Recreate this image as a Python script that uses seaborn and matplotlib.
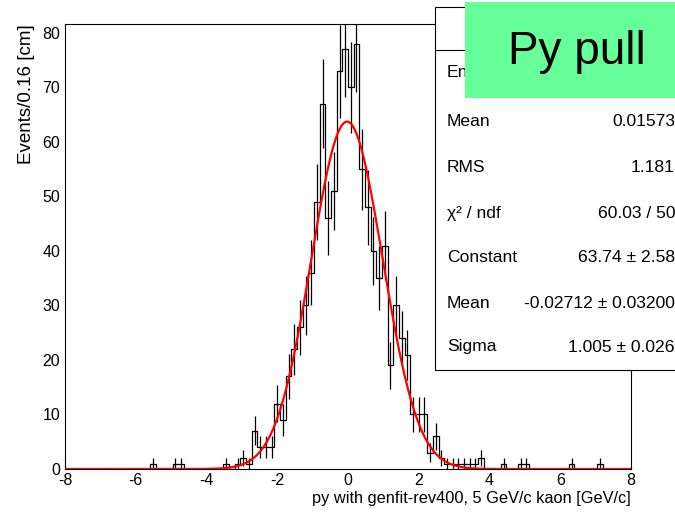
import numpy as np
import pandas as pd
import seaborn as sns
import matplotlib.pyplot as plt
from matplotlib.patches import Rectangle
from matplotlib.lines import Line2D
from matplotlib.ticker import MultipleLocator

# ---- data ----
# 100 bins of 0.16 from -8 to 8
x_lo, x_hi, n_bins = -8, 8, 100
counts = [
    0, 0, 0, 0, 0, 0, 0, 0, 0, 0,        # -8.0 .. -6.4
    0, 0, 0, 0, 0, 1, 0, 0, 0, 1,        # -6.4 .. -4.8
    1, 0, 0, 0, 0, 0, 0, 0, 1, 0,        # -4.8 .. -3.2
    1, 2, 1, 7, 4, 4, 4, 12, 9, 17,      # -3.2 .. -1.6
    22, 26, 30, 36, 49, 67, 46, 51, 73, 77,   # -1.6 .. 0.0
    70, 78, 55, 48, 40, 35, 41, 19, 30, 24,   # 0.0 .. 1.6
    21, 10, 10, 10, 3, 6, 2, 1, 1, 1,    # 1.6 .. 3.2
    1, 1, 1, 2, 0, 0, 0, 1, 0, 0,        # 3.2 .. 4.8
    1, 1, 0, 0, 0, 0, 0, 0, 0, 1,        # 4.8 .. 6.4
    0, 0, 0, 0, 1, 0, 0, 0, 0, 0,        # 6.4 .. 8.0
]

# gaussian fit parameters (from the stats box)
fit_constant = 63.74
fit_mean = -0.02712
fit_sigma = 1.005

stat_labels = ["Entries", "Mean", "RMS", "χ² / ndf", "Constant", "Mean", "Sigma"]
stat_values = ["", "0.01573", "1.181", "60.03 / 50", "63.74 ± 2.58",
               "-0.02712 ± 0.03200", "1.005 ± 0.026"]
stat_rows_y = [73, 121, 167, 213, 257, 303, 347]

# ---- style ----
sns.set_theme(style='white')
plt.rcParams['font.family'] = ['Liberation Sans', 'DejaVu Sans']
plt.rcParams['text.color'] = 'black'
plt.rcParams['axes.labelcolor'] = 'black'
plt.rcParams['axes.unicode_minus'] = False

W, H = 675, 514
fig = plt.figure(figsize=(W / 100, H / 100), dpi=100)
ax = fig.add_axes([65 / W, 1 - 469 / H, (631 - 65) / W, (469 - 24) / H])

bin_edges = np.linspace(x_lo, x_hi, n_bins + 1)
centers = (bin_edges[:-1] + bin_edges[1:]) / 2
c = np.array(counts, dtype=float)
df = pd.DataFrame({'py': centers, 'n': c})

sns.histplot(data=df, x='py', weights='n', bins=n_bins, binrange=(x_lo, x_hi),
             element='step', fill=False, color='black', linewidth=0.9, ax=ax)

nz = c > 0
ax.errorbar(centers[nz], c[nz], yerr=np.sqrt(c[nz]), fmt='none',
            ecolor='black', elinewidth=0.9, zorder=3)

# fitted gaussian
xs = np.linspace(x_lo, x_hi, 801)
ys = fit_constant * np.exp(-0.5 * ((xs - fit_mean) / fit_sigma) ** 2)
sns.lineplot(x=xs, y=ys, color='red', linewidth=1.6, ax=ax, zorder=4)

ax.set_xlim(x_lo, x_hi)
ax.set_ylim(0, 81.65)
ax.xaxis.set_major_locator(MultipleLocator(2))
ax.xaxis.set_minor_locator(MultipleLocator(0.5))
ax.yaxis.set_major_locator(MultipleLocator(10))
ax.yaxis.set_minor_locator(MultipleLocator(2))
ax.tick_params(which='both', direction='in', top=False, right=False,
               colors='black', labelsize=11.5, width=0.8)
ax.tick_params(which='major', length=9.5)
ax.tick_params(which='minor', length=5)
ax.tick_params(axis='x', pad=3)
ax.tick_params(axis='y', pad=3.5)
for s in ax.spines.values():
    s.set_color('black')
    s.set_linewidth(0.8)

ax.set_xlabel('py with genfit-rev400, 5 GeV/c kaon [GeV/c]', loc='right',
              fontsize=11.8, labelpad=2)
ax.set_ylabel('Events/0.16 [cm]', loc='top', fontsize=13.5, labelpad=5)

# ---- stats box ----
fig.add_artist(Rectangle((435 / W, 1 - 370 / H), 250 / W, (370 - 7) / H,
                         transform=fig.transFigure, facecolor='white',
                         edgecolor='black', linewidth=0.8, zorder=5))
fig.add_artist(Line2D([435 / W, 1], [1 - 50 / H, 1 - 50 / H],
                      transform=fig.transFigure, color='black',
                      linewidth=0.8, zorder=5))
for lab, val, yy in zip(stat_labels, stat_values, stat_rows_y):
    fig.text(447 / W, 1 - yy / H, lab, ha='left', va='center',
             fontsize=12.6, zorder=5.5)
    fig.text(675 / W, 1 - yy / H, val, ha='right', va='center',
             fontsize=12.6, zorder=5.5)

# title box
fig.add_artist(Rectangle((465 / W, 1 - 98 / H), 215 / W, 96 / H,
                         transform=fig.transFigure, facecolor='#66ff99',
                         edgecolor='none', zorder=6))
fig.text(577 / W, 1 - 52 / H, 'Py pull', ha='center', va='center',
         fontsize=33, color='black', zorder=7)

fig.savefig('out.png', dpi=100)
